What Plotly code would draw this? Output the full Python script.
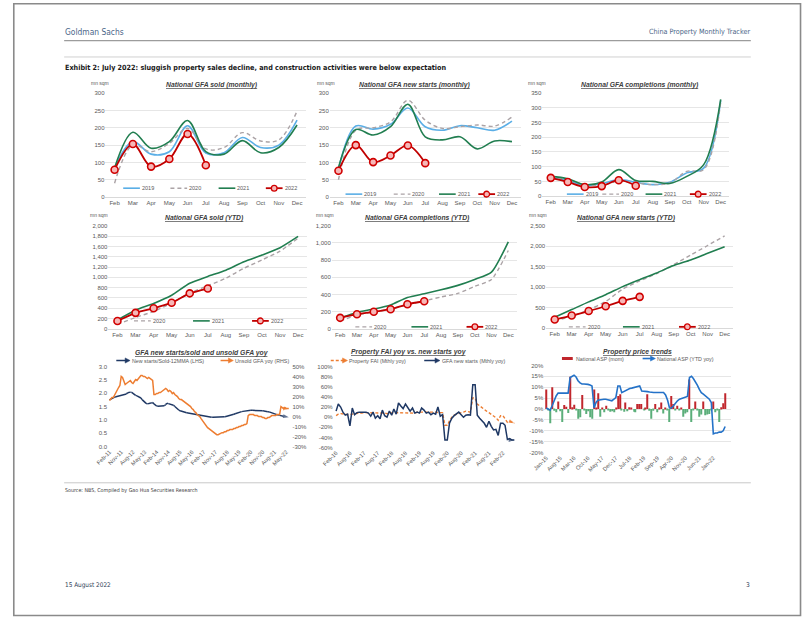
import pandas as pd
import plotly.graph_objects as go

W, H = 802, 620
FONT = "Liberation Sans, Arial, Helvetica, sans-serif"
NARROW = "Liberation Sans Narrow, Arial Narrow, DejaVu Sans Condensed, sans-serif"
GRAY = "#595959"
GRID = "#E6E6E6"

# ---------------- data ----------------
months = ["Feb", "Mar", "Apr", "May", "Jun", "Jul", "Aug", "Sep", "Oct", "Nov", "Dec"]

sold_2019 = [85, 160, 124, 131, 206, 127, 128, 172, 143, 150, 222]
sold_2020 = [40, 150, 131, 155, 198, 139, 143, 186, 162, 165, 248]
sold_2021 = [84, 187, 141, 160, 221, 131, 124, 163, 128, 143, 208]
sold_2022 = [79, 153, 88, 110, 182, 92]

starts_2019 = [80, 205, 196, 210, 257, 203, 193, 206, 200, 193, 219]
starts_2020 = [50, 193, 200, 217, 279, 222, 198, 203, 208, 205, 231]
starts_2021 = [85, 195, 179, 203, 268, 174, 165, 174, 139, 162, 160]
starts_2022 = [76, 150, 101, 120, 149, 98]

compl_2019 = [64, 53, 36, 42, 56, 47, 39, 47, 79, 95, 325]
compl_2020 = [62, 56, 39, 37, 50, 45, 39, 45, 84, 90, 320]
compl_2021 = [67, 59, 39, 48, 90, 53, 50, 43, 67, 107, 329]
compl_2022 = [62, 48, 31, 34, 54, 35]

sold_ytd_2020 = [85, 220, 339, 500, 694, 836, 982, 1176, 1338, 1509, 1761]
sold_ytd_2021 = [173, 361, 491, 651, 886, 1017, 1139, 1303, 1432, 1575, 1794]
sold_ytd_2022 = [151, 310, 398, 507, 689, 782]

compl_ytd_2020 = [92, 160, 197, 232, 280, 325, 371, 412, 494, 575, 912]
compl_ytd_2021 = [128, 191, 230, 278, 365, 409, 455, 506, 575, 660, 1014]
compl_ytd_2022 = [128, 170, 198, 228, 286, 321]

starts_ytd_2020 = [176, 281, 441, 645, 950, 1150, 1330, 1550, 1785, 2018, 2255]
starts_ytd_2021 = [258, 447, 636, 812, 1010, 1180, 1345, 1526, 1665, 1826, 1989]
starts_ytd_2022 = [204, 301, 412, 529, 661, 759]

# GFA new starts / sold 12MMA (LHS), Feb-11 .. Jul-22
ratio_12mma = (
    [1.75, 1.78, 1.80, 1.83, 1.85, 1.87, 1.88, 1.90, 1.91, 1.92, 1.93]
    + [1.94, 1.95, 1.97, 2.02, 2.04, 2.04, 2.03, 1.98, 1.95, 1.92, 1.90, 1.87]
    + [1.86, 1.82, 1.76, 1.70, 1.66, 1.62, 1.60, 1.60, 1.62, 1.63, 1.65, 1.60]
    + [1.55, 1.52, 1.51, 1.51, 1.51, 1.52, 1.52, 1.53, 1.58, 1.62, 1.61, 1.59]
    + [1.58, 1.57, 1.55, 1.50, 1.45, 1.40, 1.37, 1.34, 1.32, 1.30, 1.29, 1.28]
    + [1.27, 1.26, 1.25, 1.24, 1.23, 1.22, 1.21, 1.20, 1.19, 1.18, 1.17, 1.16]
    + [1.15, 1.14, 1.13, 1.12, 1.11, 1.11, 1.10, 1.10, 1.10, 1.10, 1.10, 1.10]
    + [1.10, 1.10, 1.11, 1.11, 1.12, 1.12, 1.13, 1.14, 1.15, 1.16, 1.18, 1.19]
    + [1.21, 1.23, 1.25, 1.27, 1.28, 1.30, 1.31, 1.32, 1.33, 1.34, 1.35, 1.35]
    + [1.35, 1.36, 1.36, 1.36, 1.35, 1.35, 1.35, 1.35, 1.34, 1.34, 1.34, 1.33]
    + [1.33, 1.32, 1.31, 1.30, 1.28, 1.26, 1.24, 1.22, 1.20, 1.19, 1.18, 1.17]
    + [1.16, 1.15, 1.14, 1.13, 1.12, 1.11, 1.10]
)
# Unsold GFA yoy % (RHS), Feb-11 .. Jul-22
unsold_yoy = (
    [16, 18, 19, 19, 22, 24, 27, 29, 31, 40, 39]
    + [36, 32, 33, 34, 35, 36, 34, 33, 35, 37, 36, 38]
    + [40, 41, 41, 40, 40, 39, 38, 39, 38, 37, 36, 22]
    + [22, 23, 23, 24, 24, 25, 26, 27, 28, 27, 25, 26]
    + [25, 23, 24, 22, 21, 20, 18, 17, 17, 16, 15, 14]
    + [13, 12, 11, 10, 8, 7, 5, 4, 2, 1, 0, -2]
    + [-4, -6, -8, -10, -11, -12, -13, -14, -15, -16, -17, -18]
    + [-18, -17, -17, -16, -16, -15, -15, -14, -14, -13, -13, -13]
    + [-12, -12, -11, -11, -10, -10, -9, -9, -8, -8, -7, 1]
    + [2, 2, 2, 2, 1, 1, 1, 0, 0, 0, -1, -1]
    + [-2, -2, -1, -1, 0, 1, 1, 1, 1, 2, 2, 2]
    + [10, 9, 8, 9, 8, 8, 8]
)
p7_dates = pd.date_range("2011-02-01", periods=len(ratio_12mma), freq="MS")
p7_tickdates = pd.date_range("2011-02-01", "2022-05-01", freq="9MS")
p7_right_ticks = [-30, -20, -10, 0, 10, 20, 30, 40, 50]

# Property FAI yoy and GFA new starts yoy (monthly), Feb-16 .. Jul-22
new_starts_yoy = (
    [12, 26, 20, 10, 4, 6, -17, 18, 5, 9, 10]
    + [10, 9, 10, 8, 2, 10, -2, 3, -3, 14, 3, 0]
    + [12, 4, 16, 6, 28, 22, 17, 26, 20, 12, 18, 8]
    + [10, 8, 18, 14, 8, 10, 5, 8, 6, 20, 2, 5]
    + [-45, -45, -12, -2, 3, 6, 10, 5, 0, 4, 5, 4]
    + [64, 64, 4, -2, -6, -12, -20, -8, -18, -25, -24, -36]
    + [-12, -12, -16, -44, -42, -45, -45]
)
fai_yoy = (
    [3, 6, 7, 7, 6, 5, 5, 6, 7, 7, 7]
    + [8, 9, 9, 9, 9, 8, 8, 8, 8, 8, 8, 7]
    + [8, 9, 9, 9, 9, 9, 9, 9, 9, 9, 9, 8]
    + [10, 10, 11, 11, 10, 10, 10, 10, 10, 9, 9, 9]
    + [-16, -16, -7, 0, 4, 6, 8, 9, 10, 12, 11, 10]
    + [38, 38, 26, 22, 18, 15, 12, 9, 6, 3, -1, -6]
    + [3, 3, -3, -10, -8, -10, -12]
)
p8_dates = pd.date_range("2016-02-01", periods=len(new_starts_yoy), freq="MS")
p8_tickdates = pd.date_range("2016-02-01", "2022-02-01", freq="6MS")
p8_ticks = [-60, -40, -20, 0, 20, 40, 60, 80, 100]

# National ASP mom % (bars) and YTD yoy % (line), Jan-15 .. Jul-22
asp_mom = (
    [9, -0.5, -6.5, 10, -0.8, -1.5, 3.5, -1, -6, 1.8, 1, -1.8]
    + [14.8, 0.8, 2, -0.5, -4.5, -3.8, 6.4, -0.6, -2.3, -1, -3.8, -4.5]
    + [9, 0.5, 7.3, -3.5, 0.5, -1.5, 1.5, -0.5, -1.2, -1, -1.5, 0.5]
    + [6, 6.8, -0.5, -1.2, 3, -1, 0.8, 0.5, -1.2, -1.5, 2.3, 2.3]
    + [2.3, -0.5, 0.5, 6.8, -0.8, -4.5, -0.8, 2.3, -1.5, 0.5, 3, -2]
    + [0.6, -0.5, -6, 6, 2.3, -0.5, 1.5, -0.3, 0.5, -3.5, -2, -1.5]
    + [13.6, -6, -0.5, 3.5, -0.5, -3.5, -2.5, 3.5, -2.8, -2.5, -2.3, -0.5]
    + [3.5, -1.5, -0.5, -6, 0.8, 2.6, 7.3]
)
asp_ytd_yoy = (
    [0.5, 0, -0.5, 1.5, 4, 6, 7.3, 7.3, 7.2, 7, 7.3, 7.3]
    + [14.5, 15, 15.5, 14.7, 13, 12, 11.5, 11.5, 11.5, 11.3, 11, 10.6]
    + [0.5, 3, 4, 4.2, 4.5, 4.5, 4.5, 4.2, 4, 3.8, 4.5, 5.3]
    + [10.6, 10.6, 7.5, 8, 8.6, 9, 9.4, 9.6, 9.8, 10.2, 10.4, 10.6]
    + [8.3, 8.3, 8.3, 8, 7.8, 7.6, 7.6, 7.6, 7.6, 7.6, 7.6, 7.6]
    + [6.5, 4, 0.5, 0.5, 1.5, 3, 3.8, 4.5, 4.8, 5.3, 5.6, 5.8]
    + [14.5, 15, 14, 12.7, 11, 9, 7.5, 6.8, 6, 5.3, 4.5, 3]
    + [-11.4, -11, -11, -10.6, -10.6, -10, -8]
)
p9_dates = pd.date_range("2015-01-01", periods=len(asp_mom), freq="MS")
p9_tickdates = pd.date_range("2015-01-01", "2022-01-01", freq="7MS")
p9_ticks = [-20, -15, -10, -5, 0, 5, 10, 15, 20]

# ---------------- styles ----------------
C19 = "#5AAEE6"
C20 = "#ABA3A6"
C21 = "#217E50"
C22 = "#C00000"
C22F = "#F6B7B7"
NAVY = "#1F3864"
ORANGE = "#ED7D31"
RED = "#C0262C"
GREEN = "#5BAE7A"
BLUE = "#2472C8"

S = {
    "2019": dict(color=C19, width=1.6),
    "2020": dict(color=C20, width=1.4, dash="4px,3px"),
    "2021": dict(color=C21, width=1.6),
    "2022": dict(color=C22, width=1.8),
}


def fx(px):
    return px / W


def fy(py):
    return 1 - py / H


def aid(i):
    return "" if i == 1 else str(i)


fig = go.Figure()
layout = dict(
    width=W, height=H, margin=dict(l=0, r=0, t=0, b=0),
    paper_bgcolor="white", plot_bgcolor="white", showlegend=False,
    font=dict(family=FONT, size=6, color=GRAY), bargap=0.45,
)
shapes, annotations = [], []

tickfont = dict(family=FONT, size=6, color=GRAY)
datefont = dict(family=FONT, size=5.7, color=GRAY)

# month panels
month_panels = [
    dict(i=1, x=(94, 298), y=(91, 196), yr=(0, 300), dt=50,
         series=[("2019", sold_2019), ("2020", sold_2020), ("2021", sold_2021), ("2022", sold_2022)], smooth=1.0),
    dict(i=2, x=(322, 516), y=(91, 196), yr=(0, 300), dt=50,
         series=[("2019", starts_2019), ("2020", starts_2020), ("2021", starts_2021), ("2022", starts_2022)], smooth=1.0),
    dict(i=3, x=(538, 728), y=(91, 195), yr=(0, 350), dt=50,
         series=[("2019", compl_2019), ("2020", compl_2020), ("2021", compl_2021), ("2022", compl_2022)], smooth=1.0),
    dict(i=4, x=(97, 299), y=(225, 329), yr=(0, 2000), dt=200,
         series=[("2020", sold_ytd_2020), ("2021", sold_ytd_2021), ("2022", sold_ytd_2022)], smooth=0.6),
    dict(i=5, x=(324, 512), y=(225, 329), yr=(0, 1200), dt=200,
         series=[("2020", compl_ytd_2020), ("2021", compl_ytd_2021), ("2022", compl_ytd_2022)], smooth=0.6),
    dict(i=6, x=(542, 732), y=(225, 328), yr=(0, 2500), dt=500,
         series=[("2020", starts_ytd_2020), ("2021", starts_ytd_2021), ("2022", starts_ytd_2022)], smooth=0.6),
]

for p in month_panels:
    i = p["i"]
    layout["xaxis" + aid(i)] = dict(
        domain=[fx(p["x"][0]), fx(p["x"][1])], anchor="y" + aid(i), type="category",
        categoryorder="array", categoryarray=months, range=[-0.5, 10.5],
        showgrid=False, showline=True, linecolor="#D9D9D9", linewidth=0.8,
        ticks="", tickfont=tickfont, zeroline=False, fixedrange=True,
    )
    layout["yaxis" + aid(i)] = dict(
        domain=[fy(p["y"][1]), fy(p["y"][0])], anchor="x" + aid(i),
        range=list(p["yr"]), dtick=p["dt"], tick0=0, tickformat=",d",
        showgrid=True, gridcolor=GRID, gridwidth=0.8, zeroline=False,
        showline=False, ticks="", tickfont=tickfont, fixedrange=True,
    )
    for name, vals in p["series"]:
        kw = dict(x=months[:len(vals)], y=vals, xaxis="x" + aid(i), yaxis="y" + aid(i),
                  line=dict(shape="spline", smoothing=p["smooth"], **S[name]), hoverinfo="skip")
        if name == "2022":
            kw["mode"] = "lines+markers"
            kw["marker"] = dict(symbol="circle", size=7, color=C22F, line=dict(color="#D00000", width=1.6))
        else:
            kw["mode"] = "lines"
        fig.add_trace(go.Scatter(**kw))

# ---- panel 7 ----
layout["xaxis7"] = dict(
    domain=[fx(96.7), fx(283)], anchor="y7", type="date",
    range=["2011-01-01", "2022-09-01"], tickvals=list(p7_tickdates),
    tickformat="%b-%y", tickangle=-45, tickfont=datefont,
    showgrid=False, showline=False, ticks="", zeroline=False, fixedrange=True,
)
layout["yaxis7"] = dict(
    domain=[fy(448), fy(367)], anchor="x7", range=[0, 3.0], dtick=0.5, tick0=0,
    tickformat=".1f", showgrid=False, zeroline=False, ticks="", tickfont=tickfont, fixedrange=True,
)
layout["yaxis10"] = dict(
    overlaying="y7", side="right", anchor="x7", range=[-30, 50],
    tickvals=p7_right_ticks, ticktext=[f"{v}%" for v in p7_right_ticks],
    showgrid=False, zeroline=False, ticks="", tickfont=tickfont, fixedrange=True,
)


def end_arrow(n, size=6):
    return [0] * (n - 1) + [size]


fig.add_trace(go.Scatter(
    x=p7_dates, y=ratio_12mma, xaxis="x7", yaxis="y7", mode="lines+markers",
    line=dict(color=NAVY, width=1.5),
    marker=dict(symbol="arrow", angleref="previous", size=end_arrow(len(ratio_12mma)), color=NAVY, line=dict(width=0)),
    hoverinfo="skip"))
fig.add_trace(go.Scatter(
    x=p7_dates, y=unsold_yoy, xaxis="x7", yaxis="y10", mode="lines+markers",
    line=dict(color=ORANGE, width=1.5),
    marker=dict(symbol="arrow", angleref="previous", size=end_arrow(len(unsold_yoy)), color=ORANGE, line=dict(width=0)),
    hoverinfo="skip"))

# ---- panel 8 ----
layout["xaxis8"] = dict(
    domain=[fx(326), fx(512)], anchor="y8", type="date",
    range=["2016-01-01", "2022-08-01"], tickvals=list(p8_tickdates),
    tickformat="%b-%y", tickangle=-45, tickfont=datefont,
    showgrid=False, showline=False, ticks="", zeroline=False, fixedrange=True,
)
layout["yaxis8"] = dict(
    domain=[fy(449), fy(367)], anchor="x8", range=[-60, 100],
    tickvals=p8_ticks, ticktext=[f"{v}%" for v in p8_ticks],
    showgrid=False, zeroline=False, ticks="", tickfont=tickfont, fixedrange=True,
)
fig.add_trace(go.Scatter(
    x=p8_dates, y=fai_yoy, xaxis="x8", yaxis="y8", mode="lines+markers",
    line=dict(color=ORANGE, width=1.4, dash="3px,2px"),
    marker=dict(symbol="arrow", angleref="previous", size=end_arrow(len(fai_yoy)), color=ORANGE, line=dict(width=0)),
    hoverinfo="skip"))
fig.add_trace(go.Scatter(
    x=p8_dates, y=new_starts_yoy, xaxis="x8", yaxis="y8", mode="lines+markers",
    line=dict(color=NAVY, width=1.5),
    marker=dict(symbol="arrow", angleref="previous", size=end_arrow(len(new_starts_yoy)), color=NAVY, line=dict(width=0)),
    hoverinfo="skip"))

# ---- panel 9 ----
layout["xaxis9"] = dict(
    domain=[fx(540), fx(730)], anchor="y9", type="date",
    range=["2014-12-01", "2022-10-01"], tickvals=list(p9_tickdates),
    tickformat="%b-%y", tickangle=-45, tickfont=datefont,
    showgrid=False, showline=False, ticks="", zeroline=False, fixedrange=True,
)
layout["yaxis9"] = dict(
    domain=[fy(454), fy(366)], anchor="x9", range=[-20, 20],
    tickvals=p9_ticks, ticktext=[f"{v}%" for v in p9_ticks],
    showgrid=True, gridcolor=GRID, gridwidth=0.8, zeroline=False, ticks="",
    tickfont=tickfont, fixedrange=True,
)
fig.add_trace(go.Bar(
    x=p9_dates, y=asp_mom, xaxis="x9", yaxis="y9",
    marker=dict(color=[RED if v >= 0 else GREEN for v in asp_mom], line=dict(width=0)),
    hoverinfo="skip"))
fig.add_trace(go.Scatter(
    x=p9_dates, y=asp_ytd_yoy, xaxis="x9", yaxis="y9", mode="lines",
    line=dict(color=BLUE, width=1.6), hoverinfo="skip"))


# ---------------- annotations / decorations ----------------
def text(x, y, s, size=5.5, color=GRAY, xanchor="left", family=FONT, yanchor="middle"):
    annotations.append(dict(
        x=fx(x), y=fy(y), xref="paper", yref="paper", text=s, showarrow=False,
        xanchor=xanchor, yanchor=yanchor, font=dict(size=size, color=color, family=family),
        borderpad=0))


def hline(x0, x1, y, color, width, dash=None):
    line = dict(color=color, width=width)
    if dash:
        line["dash"] = dash
    shapes.append(dict(type="line", xref="paper", yref="paper",
                       x0=fx(x0), x1=fx(x1), y0=fy(y), y1=fy(y), line=line))


def circle(cx, cy, r, fill, edge, lw):
    shapes.append(dict(type="circle", xref="paper", yref="paper",
                       x0=fx(cx - r), x1=fx(cx + r), y0=fy(cy + r), y1=fy(cy - r),
                       fillcolor=fill, line=dict(color=edge, width=lw)))


def arrowhead(x, y, color):
    path = "M {:.5f},{:.5f} L {:.5f},{:.5f} L {:.5f},{:.5f} Z".format(
        fx(x + 2), fy(y), fx(x - 3), fy(y - 2.6), fx(x - 3), fy(y + 2.6))
    shapes.append(dict(type="path", xref="paper", yref="paper", path=path,
                       fillcolor=color, line=dict(color=color, width=0.5)))


def year_legend(items, y):
    for name, x0 in items:
        st = S[name]
        hline(x0, x0 + 17, y, st["color"], st["width"], st.get("dash"))
        if name == "2022":
            circle(x0 + 8.5, y, 2.9, C22F, "#D00000", 1.3)
        text(x0 + 18, y, name)


# page frame and header
shapes.append(dict(type="rect", xref="paper", yref="paper", x0=fx(0.8), x1=fx(800.5),
                   y0=fy(618.5), y1=fy(0.8), line=dict(color="#8A8A8A", width=1.6)))
text(52, 29, "Goldman Sachs", size=8.4, color="#4A6688", family=NARROW)
text(750, 29, "China Property Monthly Tracker", size=7.2, color="#4A6688", family=NARROW, xanchor="right")
hline(52, 750, 38, "#9C9C9C", 1.4)
hline(52, 750, 54.5, "#D0D0D0", 1.0)
text(52, 65, "<b>Exhibit 2: July 2022: sluggish property sales decline, and construction activities were below expectation</b>",
     size=7.2, color="#1A1A1A", family=NARROW)

# panel titles
TITLE = dict(size=6.8, color="#404040")
for x, y, t in [
    (202, 83, "National GFA sold (monthly)"),
    (409, 83, "National GFA new starts (monthly)"),
    (637, 83, "National GFA completions (monthly)"),
    (195, 217, "National GFA sold (YTD)"),
    (411, 217, "National GFA completions (YTD)"),
    (624, 217, "National GFA new starts (YTD)"),
    (192, 353, "GFA new starts/sold and unsold GFA yoy"),
    (403, 352, "Property FAI yoy vs. new starts yoy"),
    (635, 352, "Property price trends"),
]:
    text(x, y, f"<b><i><u>{t}</u></i></b>", xanchor="center", **TITLE)

# units
for x, y in [(78, 81), (308, 81), (522, 81), (77, 214), (307, 214), (523, 214)]:
    text(x, y, "mn sqm", size=5)

# year legends
year_legend([("2019", 112), ("2020", 160), ("2021", 209), ("2022", 257)], 187)
year_legend([("2019", 338), ("2020", 387), ("2021", 433), ("2022", 473)], 193)
year_legend([("2019", 563), ("2020", 599), ("2021", 643), ("2022", 688)], 193)
year_legend([("2020", 123), ("2021", 183), ("2022", 243)], 321)
year_legend([("2020", 348), ("2021", 405), ("2022", 461)], 327)
year_legend([("2020", 565), ("2021", 620), ("2022", 677)], 327)

# row 3 legends
hline(105, 116, 361, NAVY, 1.5); arrowhead(117, 361, NAVY)
text(120, 361, "New starts/Sold-12MMA (LHS)", size=5.3)
hline(211, 221, 361, ORANGE, 1.5); arrowhead(222, 361, ORANGE)
text(225, 361, "Unsold GFA yoy (RHS)", size=5.3)
hline(323, 337, 361, ORANGE, 1.4, "3px,2px"); arrowhead(338, 361, ORANGE)
text(341, 361, "Property FAI (Mthly yoy)", size=5.3)
hline(418, 431, 361, NAVY, 1.5); arrowhead(432, 361, NAVY)
text(435, 361, "GFA new starts (Mthly yoy)", size=5.3)
hline(558, 569, 359, RED, 3)
text(571, 359, "National ASP (mom)", size=5.3)
hline(640, 650, 359, BLUE, 1.6); arrowhead(651, 359, BLUE)
text(654, 359, "National ASP (YTD yoy)", size=5.3)

# footer
hline(52, 750, 484.5, "#C8C8C8", 1.0)
text(52, 492, "Source: NBS, Compiled by Gao Hua Securities Research", size=5.3, color="#404040", family=NARROW)
text(52, 588, "15 August 2022", size=6.4, color="#2D3E57", family=NARROW)
text(750, 588, "3", size=6.6, color="#2D3E57", family=NARROW, xanchor="right")

layout["shapes"] = shapes
layout["annotations"] = annotations
fig.update_layout(**layout)
fig.write_html("out.html")
